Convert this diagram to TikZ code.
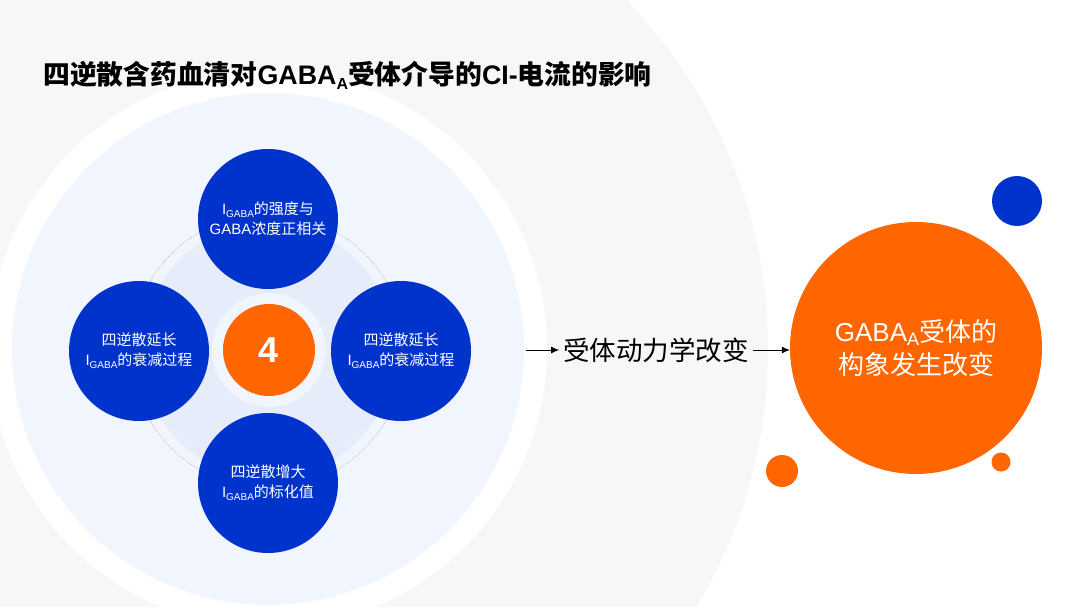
\documentclass[tikz,border=0pt]{standalone}
\usepackage{fontspec}
\setmainfont{Noto Sans CJK SC}
\newfontfamily\lat{Liberation Sans}
\usetikzlibrary{arrows.meta}
\definecolor{bggray}{HTML}{F7F7F7}
\definecolor{paleblue}{HTML}{F1F5FD}
\definecolor{innerblue}{HTML}{E6ECF9}
\definecolor{nblue}{HTML}{0033CC}
\definecolor{norange}{HTML}{FF6600}
\definecolor{dotgray}{HTML}{A0A0A0}
\newcommand\lowsub[2]{\raisebox{-0.32ex}{\fontsize{#1}{#1}\selectfont\lat #2}}
\begin{document}
\begin{tikzpicture}[x=1pt,y=-1pt,
  bluenode/.style={circle, fill=nblue, minimum size=140pt, inner sep=0pt,
    text=white, align=center, font=\fontsize{15}{20}\selectfont},
  centernode/.style={circle, fill=norange, minimum size=92pt, inner sep=0pt,
    text=white, font=\lat\bfseries\fontsize{36}{36}\selectfont},
  bignode/.style={circle, fill=norange, minimum size=252pt, inner sep=0pt,
    text=white, align=center, font=\fontsize{26}{33}\selectfont},
  kintext/.style={inner xsep=4pt, inner ysep=2pt, text=black, font=\fontsize{26.5}{30}\selectfont},
  arr/.style={line width=0.8pt, -{Latex[length=8pt,width=7pt]}},
  titletext/.style={anchor=base west, inner sep=0pt, text=black, font=\bfseries\fontsize{26.8}{30}\selectfont}
]
\useasboundingbox (0,0) rectangle (1080,607);
\fill[white] (0,0) rectangle (1080,607);
\begin{scope}
  \clip (0,0) rectangle (1080,607);
  \fill[bggray] (268,349) circle[radius=500pt];
  \fill[white] (268,349) circle[radius=279pt];
  \fill[paleblue] (268,349) circle[radius=256pt];
\end{scope}
% cluster background
\draw[dotgray, line width=0.5pt, dash pattern=on 0.8pt off 1.2pt] (268,351) circle[radius=137pt];
\fill[innerblue] (268,351) circle[radius=127pt];
\fill[paleblue] (269,350) circle[radius=57pt];

% title
\node[titletext] (title) at (43,85) {四逆散含药血清对{\lat GABA}\lowsub{16}{A}受体介导的{\lat CI-}电流的影响};

% nodes
\node[centernode] (four) at (269,350) {4};
\node[bluenode] (top) at (268,219) {{\lat I}\lowsub{10}{GABA}的强度与\\{\lat GABA}浓度正相关};
\node[bluenode] (left) at (139,351) {四逆散延长\\{\lat I}\lowsub{10}{GABA}的衰减过程};
\node[bluenode] (right) at (401,351) {四逆散延长\\{\lat I}\lowsub{10}{GABA}的衰减过程};
\node[bluenode] (bottom) at (268,483) {四逆散增大\\{\lat I}\lowsub{10}{GABA}的标化值};

% right side
\node[bignode] (conf) at (916,348) {{\lat GABA}\lowsub{18}{A}受体的\\构象发生改变};
\fill[nblue] (1017,201) circle[radius=25pt];
\fill[norange] (782,471) circle[radius=16pt];
\fill[norange] (1001,462) circle[radius=9.5pt];

% flow
\coordinate (start) at (526,350);
\node[kintext] (kin) at (656,350) {受体动力学改变};
\draw[arr] (start) -- (kin.west);
\draw[arr] (kin.east) -- (kin.east -| conf.west);
\end{tikzpicture}
\end{document}
